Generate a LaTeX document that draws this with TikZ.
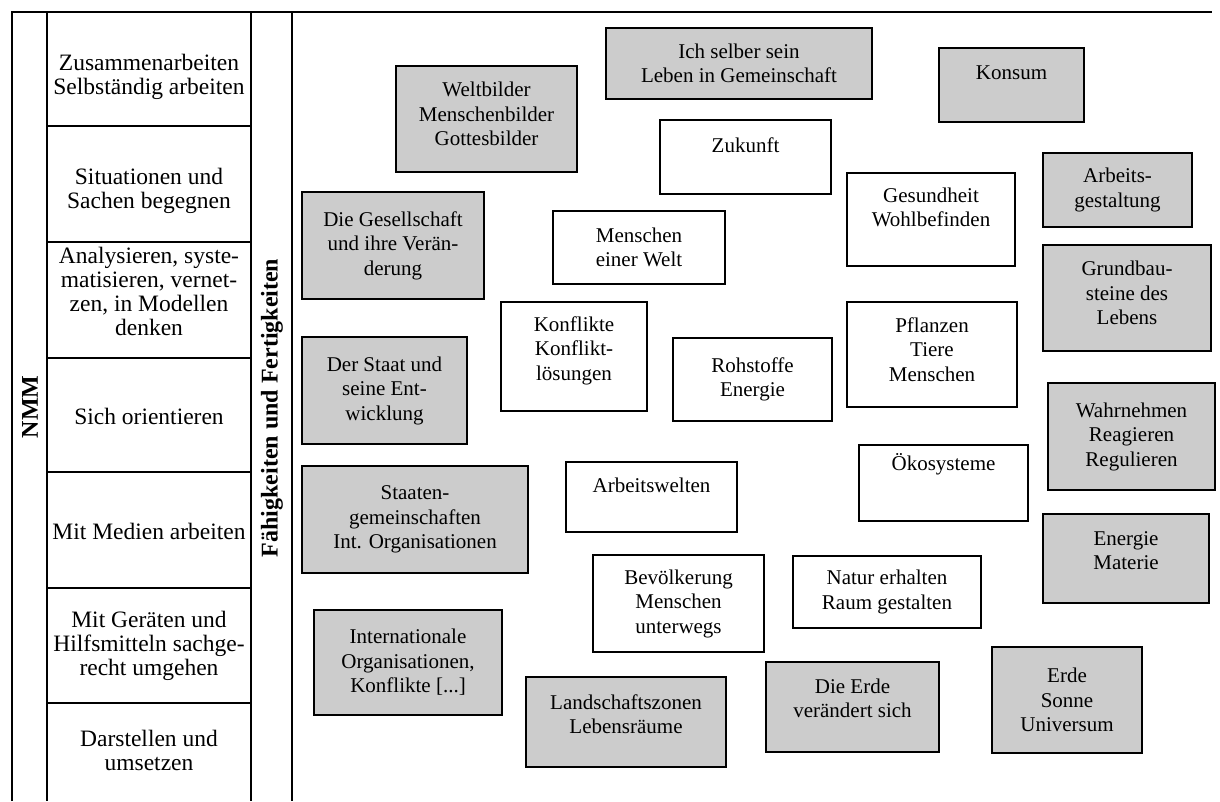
\documentclass[tikz,border=0pt]{standalone}
\usepackage{fontspec}
\setmainfont{Liberation Serif}
\definecolor{shadegray}{gray}{0.80}
\tikzset{
  tline/.style={line width=1.3pt, black},
  cell/.style={align=center, inner sep=0pt, font=\fontsize{23.5}{24}\selectfont},
  vlabel/.style={rotate=90, inner sep=0pt, font=\fontsize{24}{26}\selectfont\bfseries},
  topic/.style={draw=black, line width=1.8pt, align=center, inner sep=2pt,
    font=\fontsize{21}{24.5}\selectfont},
  wbox/.style={topic, fill=white},
  sbox/.style={topic, fill=shadegray},
}
\begin{document}
\begin{tikzpicture}[x=1pt,y=-1pt]
\useasboundingbox (0,0) rectangle (1220,801);
% frame of the table
\draw[tline] (12,801) -- (12,12) -- (1212,12);
\draw[tline] (47,12) -- (47,801);
\draw[tline, line width=1.8pt] (251,12) -- (251,801);
\draw[tline] (292,12) -- (292,801);
\foreach \yy in {126,242,358,472,588,703} \draw[tline] (47,\yy) -- (251,\yy);
% vertical labels
\node[vlabel] (nmm) at (30,407) {NMM};
\node[vlabel] (ff) at (272,408) {Fähigkeiten und Fertigkeiten};
% skills
\node[cell] (r1) at (149,77) {Zusammenarbeiten\\Selbständig arbeiten};
\node[cell] (r2) at (149,191) {Situationen und\\Sachen begegnen};
\node[cell] (r3) at (149,291) {Analysieren, syste-\\matisieren, vernet-\\zen, in Modellen\\denken};
\node[cell] (r4) at (149,416) {Sich orientieren};
\node[cell] (r5) at (149,531) {Mit Medien arbeiten};
\node[cell] (r6) at (149,646) {Mit Geräten und\\Hilfsmitteln sachge-\\recht umgehen};
\node[cell] (r7) at (149,750) {Darstellen und\\umsetzen};
% topics
\node[sbox, minimum width=181, minimum height=106, text depth=10] (welt) at (486.5,119) {Weltbilder\\Menschenbilder\\Gottesbilder};
\node[sbox, minimum width=266, minimum height=71] (ich) at (739,63.5) {Ich selber sein\\Leben in Gemeinschaft};
\node[wbox, minimum width=171, minimum height=74] (zukunft) at (745.5,157) {Zukunft\\\mbox{}};
\node[sbox, minimum width=182, minimum height=107] (gesell) at (393,245.5) {Die Gesellschaft\\und ihre Verän-\\derung};
\node[wbox, minimum width=172, minimum height=73] (menschen) at (639,247.5) {Menschen\\einer Welt};
\node[wbox, minimum width=146, minimum height=109, text depth=16] (konflikte) at (574,356.5) {Konflikte\\Konflikt-\\lösungen};
\node[sbox, minimum width=145, minimum height=74] (konsum) at (1011.5,85) {Konsum\\\mbox{}};
\node[sbox, minimum width=149, minimum height=74] (arbeitsg) at (1117.5,190) {Arbeits-\\gestaltung};
\node[wbox, minimum width=168, minimum height=93] (gesund) at (931,219.5) {Gesundheit\\Wohlbefinden\\\mbox{}};
\node[sbox, minimum width=168, minimum height=106, text depth=10] (grund) at (1127,298) {Grundbau-\\steine des\\Lebens};
\node[wbox, minimum width=170, minimum height=105, text depth=10] (pflanzen) at (932,354.5) {Pflanzen\\Tiere\\Menschen};
\node[sbox, minimum width=165, minimum height=107] (staat) at (384.5,390.5) {Der Staat und\\seine Ent-\\wicklung};
\node[wbox, minimum width=159, minimum height=83] (rohstoffe) at (752.5,379.5) {Rohstoffe\\Energie};
\node[sbox, minimum width=226, minimum height=107] (staaten) at (415,519.5) {Staaten-\\gemeinschaften\\Int. Organisationen};
\node[wbox, minimum width=171, minimum height=70] (arbeitsw) at (651.5,497) {Arbeitswelten\\\mbox{}};
\node[wbox, minimum width=171, minimum height=97] (bevoelk) at (678.5,603.5) {Bevölkerung\\Menschen\\unterwegs};
\node[sbox, minimum width=167, minimum height=107] (wahr) at (1131.5,436.5) {Wahrnehmen\\Reagieren\\Regulieren};
\node[wbox, minimum width=169, minimum height=76, text depth=18] (oeko) at (943.5,483) {Ökosysteme\\\mbox{}};
\node[sbox, minimum width=166, minimum height=89, text depth=16] (energie) at (1126,558.5) {Energie\\Materie};
\node[wbox, minimum width=188, minimum height=72] (natur) at (887,592) {Natur erhalten\\Raum gestalten};
\node[sbox, minimum width=188, minimum height=105] (intl) at (408,662.5) {Internationale\\Organisationen,\\Konflikte [...]};
\node[sbox, minimum width=200, minimum height=90, text depth=16] (land) at (626,722) {Landschaftszonen\\Lebensräume};
\node[sbox, minimum width=173, minimum height=90, text depth=18] (erdev) at (852.5,707) {Die Erde\\verändert sich};
\node[sbox, minimum width=150, minimum height=106] (erdes) at (1067,700) {Erde\\Sonne\\Universum};
\end{tikzpicture}
\end{document}
